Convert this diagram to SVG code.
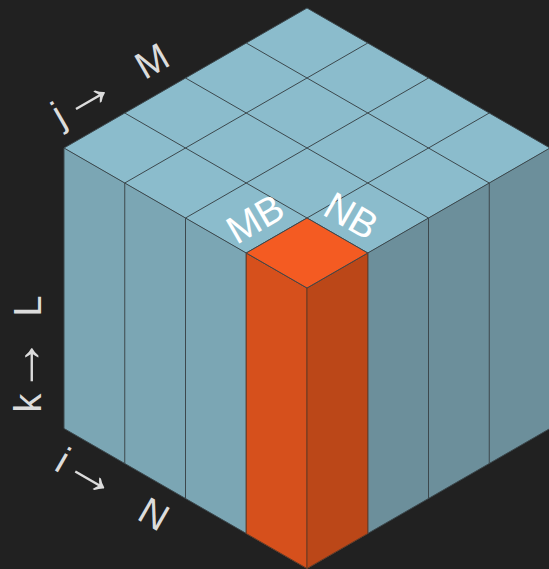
<svg xmlns="http://www.w3.org/2000/svg" width="549" height="569" viewBox="0 0 549 569">
<style>
.e{stroke:#3c484d;stroke-width:1;fill:none}
.t{stroke:#3c484d;stroke-width:1;stroke-linejoin:round}
.o{stroke:#6b3a22;stroke-width:1;stroke-linejoin:round}
.a{font-family:"Liberation Sans",Arial,sans-serif;font-size:38px;fill:#dcdcdc;text-anchor:middle}
.r{font-family:"Liberation Sans",Arial,sans-serif;font-size:56px;fill:#dcdcdc;text-anchor:middle}
.w{font-family:"Liberation Sans",Arial,sans-serif;font-size:39px;fill:#fff}
</style>
<rect width="549" height="569" fill="#212121"/>
<g id="cube">
<polygon points="307,8 550,148 307,288 64,148" fill="#8bbccc"/>
<polygon points="64,148 307,288 307,568.5 64,428.5" fill="#7ba6b4"/>
<polygon points="550,148 307,288 307,568.5 550,428.5" fill="#6c8f9b"/>
<path class="e" d="M307,8L64,148M367.75,43L124.75,183M428.5,78L185.5,218M489.25,113L246.25,253M550,148L307,288M307,8L550,148M246.25,43L489.25,183M185.5,78L428.5,218M124.75,113L367.75,253M64,148L307,288"/>
<path class="e" d="M64,148V428.5M124.75,183V463.5M185.5,218V498.5M246.25,253V533.5M367.75,253V533.5M428.5,218V498.5M489.25,183V463.5M64,428.5L307,568.5L550,428.5"/>
</g>
<g id="column">
<polygon class="o" points="246.25,253 307,288 307,568.5 246.25,533.5" fill="#d6501c"/>
<polygon class="o" points="367.75,253 307,288 307,568.5 367.75,533.5" fill="#bb4718"/>
<polygon class="t" points="307,218 367.75,253 307,288 246.25,253" fill="#f45b22"/>
</g>
<g id="labels">
<text class="w" transform="translate(236.5,245) rotate(-30)">MB</text>
<text class="w" transform="translate(321,214) rotate(30)">NB</text>
<text class="a" transform="translate(60,117) rotate(-30)" y="10">j</text>
<text class="r" transform="translate(90,100) rotate(-30)" y="10">→</text>
<text class="a" transform="translate(152,61) rotate(-30)" y="13">M</text>
<text class="a" transform="translate(41,403) rotate(-90)">k</text>
<text class="r" transform="translate(31,365) rotate(-90)" y="10">→</text>
<text class="a" transform="translate(41,306) rotate(-90)">L</text>
<text class="a" transform="translate(63,460) rotate(30)" y="13">i</text>
<text class="r" transform="translate(90,479) rotate(30)" y="10">→</text>
<text class="a" transform="translate(154,514) rotate(30)" y="13">N</text>
</g>
</svg>
